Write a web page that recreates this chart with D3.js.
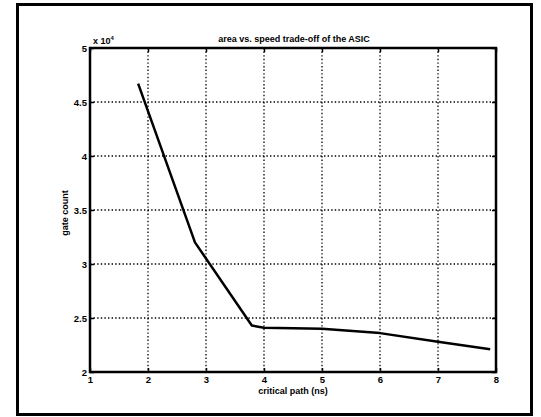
<!DOCTYPE html>
<html>
<head>
<meta charset="utf-8">
<script src="https://cdn.jsdelivr.net/npm/d3@7"></script>
<style>
  body { margin: 0; background: #fff; }
  text { font-family: "Liberation Sans", Arial, sans-serif; font-weight: bold; fill: #000; }
</style>
</head>
<body>
<div id="graph"></div>
<script>
const fullwidth = 541;
const fullheight = 417;

// critical path (ns) vs gate count (x 10^4)
const pathNs = [1.83, 2.81, 3.79, 4.0, 5, 6, 7, 7.9];
const gateCount = [4.67, 3.20, 2.43, 2.41, 2.40, 2.36, 2.28, 2.21];
const xTicks = [1, 2, 3, 4, 5, 6, 7, 8];
const yTicks = [2, 2.5, 3, 3.5, 4, 4.5, 5];

const plot = { left: 90, right: 496, top: 48, bottom: 372 };

const svg = d3.select("#graph")
    .append("svg")
    .attr("width", fullwidth)
    .attr("height", fullheight);

// outer frame
svg.append("rect")
    .attr("x", 17.5).attr("y", 4.5)
    .attr("width", 514).attr("height", 410)
    .attr("fill", "none")
    .attr("stroke", "#000")
    .attr("stroke-width", 3);

const x = d3.scaleLinear().domain([1, 8]).range([plot.left, plot.right]);
const y = d3.scaleLinear().domain([2, 5]).range([plot.bottom, plot.top]);

// grid
const grid = svg.append("g")
    .attr("stroke", "#000")
    .attr("stroke-width", 1.3)
    .attr("stroke-dasharray", "1.4,2.2");
grid.selectAll(".gx")
    .data(xTicks.slice(1, -1))
    .enter().append("line")
    .attr("x1", d => x(d)).attr("x2", d => x(d))
    .attr("y1", plot.top).attr("y2", plot.bottom);
grid.selectAll(".gy")
    .data(yTicks.slice(1, -1))
    .enter().append("line")
    .attr("y1", d => y(d)).attr("y2", d => y(d))
    .attr("x1", plot.left).attr("x2", plot.right);

// axes with inward ticks, labels
const xAxis = d3.axisBottom(x).tickValues(xTicks).tickSize(-4).tickPadding(4).tickFormat(d3.format("d"));
const yAxis = d3.axisLeft(y).tickValues(yTicks).tickSize(-4).tickPadding(3).tickFormat(d => d);

svg.append("g").attr("transform", `translate(0,${plot.bottom})`).call(xAxis);
svg.append("g").attr("transform", `translate(${plot.left},0)`).call(yAxis);
svg.append("g").attr("transform", `translate(0,${plot.top})`)
    .call(d3.axisTop(x).tickValues(xTicks).tickSize(-4).tickFormat(""));
svg.append("g").attr("transform", `translate(${plot.right},0)`)
    .call(d3.axisRight(y).tickValues(yTicks).tickSize(-4).tickFormat(""));

svg.selectAll(".domain").remove();
svg.selectAll(".tick line").attr("stroke", "#000").attr("stroke-width", 1.5);
svg.selectAll(".tick text")
    .style("font-family", "'Liberation Sans', Arial, sans-serif")
    .style("font-weight", "bold")
    .style("font-size", "9.5px");

// axes box
svg.append("rect")
    .attr("x", plot.left).attr("y", plot.top)
    .attr("width", plot.right - plot.left).attr("height", plot.bottom - plot.top)
    .attr("fill", "none")
    .attr("stroke", "#000")
    .attr("stroke-width", 2.5);

// data line
const line = d3.line().x((d, i) => x(pathNs[i])).y(d => y(d));
svg.append("path")
    .datum(gateCount)
    .attr("fill", "none")
    .attr("stroke", "#000")
    .attr("stroke-width", 2.5)
    .attr("stroke-linejoin", "round")
    .attr("d", line);

// texts
svg.append("text")
    .attr("x", (plot.left + plot.right) / 2 + 1)
    .attr("y", 42)
    .attr("text-anchor", "middle")
    .style("font-size", "9px")
    .text("area vs. speed trade-off of the ASIC");

const exp = svg.append("text")
    .attr("x", 93).attr("y", 44)
    .style("font-size", "9px");
exp.append("tspan").text("x 10");
exp.append("tspan").attr("dy", -4).style("font-size", "6px").text("4");

svg.append("text")
    .attr("x", (plot.left + plot.right) / 2)
    .attr("y", 394)
    .attr("text-anchor", "middle")
    .style("font-size", "9px")
    .text("critical path (ns)");

svg.append("text")
    .attr("transform", `translate(68,${(plot.top + plot.bottom) / 2 + 3}) rotate(-90)`)
    .attr("text-anchor", "middle")
    .style("font-size", "9px")
    .text("gate count");
</script>
</body>
</html>
